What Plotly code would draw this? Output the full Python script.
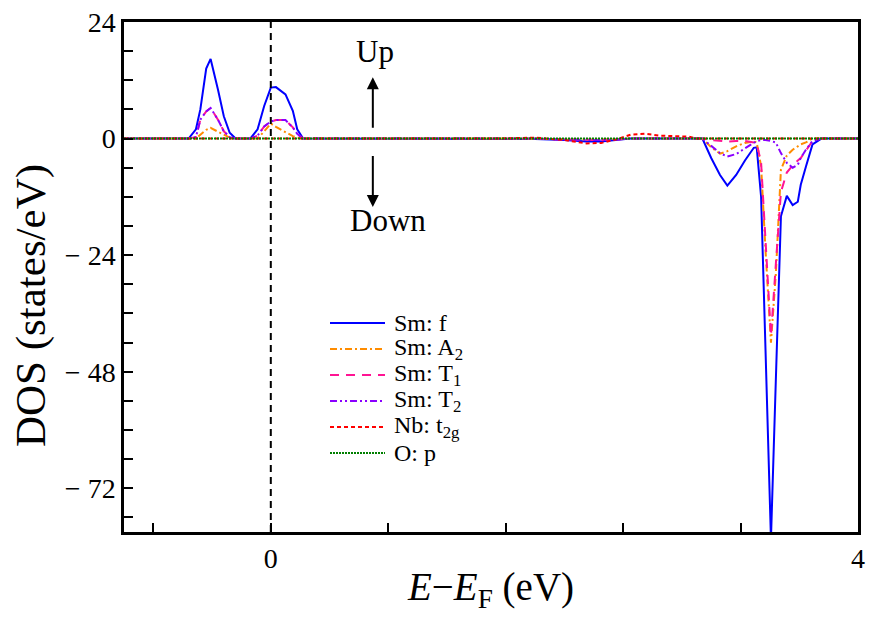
import plotly.graph_objects as go

# Energy grid (eV, relative to E_F)
energy = [-1.00, -0.56, -0.51, -0.48, -0.44, -0.41, -0.36, -0.32, -0.28, -0.24,
          -0.14, -0.09, -0.045, 0.00, 0.035, 0.10, 0.15, 0.18, 0.22,
          1.55, 1.80, 2.00, 2.15, 2.25, 2.35, 2.45, 2.55, 2.65, 2.85, 2.90,
          2.94, 3.00, 3.06, 3.11, 3.17, 3.23, 3.29, 3.31, 3.34, 3.37, 3.407,
          3.44, 3.475, 3.515, 3.555, 3.59, 3.61, 3.645, 3.69, 3.75, 4.00]

sm_f = [0, 0, 1.9, 6.0, 14.4, 16.4, 10.1, 4.6, 1.2, 0,
        0, 1.9, 6.7, 10.5, 10.6, 9.1, 5.7, 1.9, 0,
        0, -0.1, -0.3, -0.6, -0.6, -0.3, 0, 0, 0, 0, 0,
        0, -4.0, -7.5, -9.7, -7.5, -4.5, -1.9, -1.8, -12.0, -43.6, -82.5,
        -50.0, -16.0, -11.8, -13.7, -13.0, -9.5, -5.8, -1.2, 0, 0]

sm_a2 = [0, 0, 0, 0.8, 1.8, 2.2, 1.5, 0.8, 0.2, 0,
         0, 0, 1.5, 3.1, 2.4, 1.3, 0.5, 0.2, 0,
         0, 0, -0.1, -0.2, -0.2, -0.1, 0, 0, 0, 0, 0,
         0, -1.8, -3.1, -2.6, -1.6, -0.9, -0.6, -0.8, -5.7, -23.0, -42.0,
         -28.0, -6.4, -3.5, -2.3, -1.6, -1.2, -0.8, 0, 0, 0]

sm_t1 = [0, 0, 0.3, 3.9, 5.6, 6.3, 3.9, 1.5, 0.3, 0,
         0, 0.6, 2.5, 3.5, 3.8, 3.8, 2.3, 1.0, 0,
         0, 0, -0.2, -0.3, -0.3, -0.2, 0, 0, 0, 0, 0,
         0, -0.3, -0.5, -0.6, -0.5, -0.5, -0.8, -1.0, -5.0, -22.0, -40.6,
         -26.0, -11.0, -7.0, -5.5, -4.5, -4.0, -2.5, -0.5, 0, 0]

sm_t2 = [0, 0, 0.3, 3.9, 5.6, 6.3, 3.9, 1.5, 0.3, 0,
         0, 0.6, 2.5, 3.5, 3.8, 3.8, 2.3, 1.0, 0,
         0, 0, -0.2, -0.3, -0.3, -0.2, 0, 0, 0, 0, 0,
         0, -1.5, -3.0, -3.7, -3.2, -2.0, -1.0, -0.5, -0.3, -0.3, -0.5,
         -0.8, -3.0, -5.0, -6.0, -5.4, -4.0, -2.3, -0.5, 0, 0]

nb_t2g = [0, 0, 0, 0, 0, 0, 0, 0, 0, 0,
          0, 0, 0, 0, 0, 0, 0, 0, 0,
          0, 0.2, -0.3, -1.0, -0.9, -0.2, 0.8, 1.0, 0.6, 0.4, 0,
          0, 0, 0, 0, 0, 0, 0, 0, 0, 0, 0,
          0, 0, 0, 0, 0, 0, 0, 0, 0, 0]

o_p = [0] * len(energy)

series_names = ["Sm: f", "Sm: A<sub>2</sub>", "Sm: T<sub>1</sub>", "Sm: T<sub>2</sub>",
                "Nb: t<sub>2g</sub>", "O: p"]
series_values = [sm_f, sm_a2, sm_t1, sm_t2, nb_t2g, o_p]
series_colors = ["#0000ff", "#ff8c00", "#ff1493", "#8a00ff", "#ff0000", "#007f00"]
series_dash = ["solid", "7px,3px,2px,3px", "9px,7px", "7px,3px,2px,3px,2px,3px",
               "4px,3px", "2px,1px"]

x_tickvals = [-0.8, 0, 0.8, 1.6, 2.4, 3.2, 4.0]
x_ticktext = ["", "0", "", "", "", "", "4"]
y_tickvals = [-72, -48, -24, 0, 24]
y_ticktext = ["\u2212 72", "\u2212 48", "\u2212 24", "0", "24"]

FONT = "Liberation Serif"

# figure geometry (page body adds ~8px margin)
W, H = 860, 609
ML, MR, MT, MB = 116, 10, 14, 85
PW, PH = W - ML - MR, H - MT - MB


def px_to_paper(sx, sy):
    """screenshot pixel -> paper coordinates"""
    return (sx - 8 - ML) / PW, (H - MB - (sy - 8)) / PH


fig = go.Figure()
for name, vals, col, dsh in zip(series_names, series_values, series_colors, series_dash):
    fig.add_trace(go.Scatter(x=energy, y=vals, mode="lines", name=name,
                             showlegend=False,
                             line=dict(color=col, width=2, dash=dsh)))

# Fermi level
fig.add_shape(type="line", x0=0, x1=0, xref="x", y0=0, y1=1, yref="paper",
              line=dict(color="black", width=2, dash="7px,5px"))

# Up/Down arrows
fig.add_annotation(x=0.695, y=12.6, ax=0.695, ay=1.9, xref="x", yref="y",
                   axref="x", ayref="y", showarrow=True, arrowhead=2,
                   arrowsize=1.2, arrowwidth=2, arrowcolor="black", text="")
fig.add_annotation(x=0.695, y=-14.1, ax=0.695, ay=-3.3, xref="x", yref="y",
                   axref="x", ayref="y", showarrow=True, arrowhead=2,
                   arrowsize=1.2, arrowwidth=2, arrowcolor="black", text="")
fig.add_annotation(x=0.71, y=18.0, xref="x", yref="y", text="Up", showarrow=False,
                   font=dict(family=FONT, size=31, color="black"))
fig.add_annotation(x=0.795, y=-16.8, xref="x", yref="y", text="Down", showarrow=False,
                   font=dict(family=FONT, size=31, color="black"))

# Legend box (drawn as samples + labels)
for i, (name, col, dsh) in enumerate(zip(series_names, series_colors, series_dash)):
    sy = 323 + 26 * i
    lx0, ly = px_to_paper(330, sy)
    lx1, _ = px_to_paper(385, sy)
    tx, _ = px_to_paper(392, sy)
    fig.add_shape(type="line", xref="paper", yref="paper", x0=lx0, x1=lx1, y0=ly, y1=ly,
                  line=dict(color=col, width=2, dash=dsh))
    fig.add_annotation(xref="paper", yref="paper", x=tx, y=ly, text=name,
                       showarrow=False, xanchor="left", yanchor="middle",
                       font=dict(family=FONT, size=24, color="black"))

# Axis titles
xt_x, xt_y = px_to_paper(490, 589)
fig.add_annotation(xref="paper", yref="paper", x=xt_x, y=xt_y,
                   text="<i>E</i>\u2212<i>E</i><sub>F</sub> (eV)", showarrow=False,
                   xanchor="center", yanchor="middle",
                   font=dict(family=FONT, size=39, color="black"))
yt_x, yt_y = px_to_paper(31, 305)
fig.add_annotation(xref="paper", yref="paper", x=yt_x, y=yt_y,
                   text="DOS (states/eV)", showarrow=False, textangle=-90,
                   xanchor="center", yanchor="middle",
                   font=dict(family=FONT, size=43, color="black"))

fig.update_layout(
    width=W, height=H,
    margin=dict(l=ML, r=MR, t=MT, b=MB),
    paper_bgcolor="white", plot_bgcolor="white",
    font=dict(family=FONT, size=22, color="black"),
    showlegend=False,
)
fig.update_xaxes(range=[-1, 4], showline=True, linewidth=2.5, linecolor="black",
                 mirror=True, showgrid=False, zeroline=False, automargin=False,
                 tickmode="array", tickvals=x_tickvals, ticktext=x_ticktext,
                 ticks="inside", ticklen=9, tickwidth=2, tickcolor="black",
                 ticklabeloverflow="allow",
                 tickfont=dict(family=FONT, size=28))
fig.update_yaxes(range=[-81, 24], showline=True, linewidth=2.5, linecolor="black",
                 mirror=True, showgrid=False, zeroline=False, automargin=False,
                 tickmode="array", tickvals=y_tickvals, ticktext=y_ticktext,
                 ticks="inside", ticklen=9, tickwidth=2, tickcolor="black",
                 ticklabeloverflow="allow",
                 tickfont=dict(family=FONT, size=28),
                 minor=dict(dtick=6, tick0=0, ticks="inside", ticklen=9,
                            tickwidth=2, tickcolor="black", showgrid=False))

fig.write_html("out.html")
